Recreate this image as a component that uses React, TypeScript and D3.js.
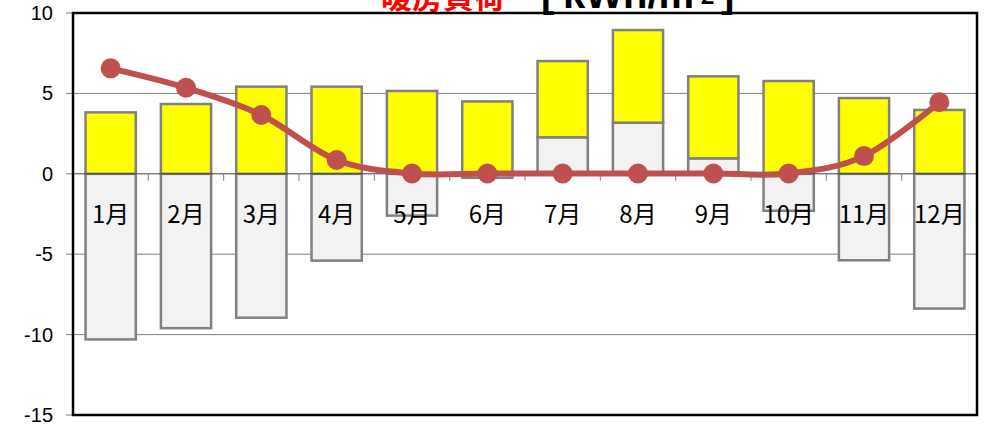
import React from "react";
import * as d3 from "d3";

const months = ["1月", "2月", "3月", "4月", "5月", "6月", "7月", "8月", "9月", "10月", "11月", "12月"];
const graySeries = [-10.3, -9.6, -8.95, -5.4, -2.6, -0.25, 2.27, 3.18, 0.96, -2.3, -5.38, -8.38];
const yellowSeries = [3.82, 4.34, 5.42, 5.42, 5.15, 4.5, 4.74, 5.76, 5.1, 5.77, 4.71, 3.97];
const lineSeries = [6.56, 5.35, 3.66, 0.86, 0.02, 0.02, 0.02, 0.02, 0.02, 0.02, 1.1, 4.45];
const yTicks = [-15, -10, -5, 0, 5, 10];

const W = 985;
const H = 427;
const margin = { left: 73, right: 8, top: 13, bottom: 12 };

export default function App() {
  const x = d3
    .scaleBand<string>()
    .domain(months)
    .range([margin.left, W - margin.right])
    .paddingInner(0.333)
    .paddingOuter(0.1665);
  const band = d3.scaleBand<string>().domain(months).range([margin.left, W - margin.right]);
  const y = d3.scaleLinear().domain([-15, 10]).range([H - margin.bottom, margin.top]);

  const rows = months.map((m, i) => ({ m, gray: graySeries[i], yellow: yellowSeries[i] }));
  const stacked = d3
    .stack<any>()
    .keys(["gray", "yellow"])
    .offset(d3.stackOffsetDiverging)(rows);
  const fills: Record<string, string> = { gray: "#F2F2F2", yellow: "#FFFF00" };

  const line = d3
    .line<number>()
    .x((_, i) => (band(months[i]) as number) + band.bandwidth() / 2)
    .y((d) => y(d))
    .curve(d3.curveCatmullRom.alpha(0));

  const x0 = margin.left;
  const x1 = W - margin.right;

  return (
    <svg
      width={W}
      height={H}
      style={{ position: "absolute", left: 0, top: 0, background: "#fff" }}
    >
      <text
        x={381}
        y={8}
        fontFamily="'Noto Sans CJK JP', sans-serif"
        fontWeight="bold"
        fontSize={31}
        fill="#FF0000"
      >
        暖房負荷
      </text>
      <g fontFamily="'Liberation Sans', Arial, sans-serif" fontWeight="bold" fill="#000">
        <text x={541} y={7} fontSize={40}>[</text>
        <text x={563} y={8} fontSize={40}>kWh/m</text>
        <text x={701} y={4} fontSize={24}>2</text>
        <text x={721} y={7} fontSize={40}>]</text>
      </g>

      {/* gridlines */}
      {yTicks
        .filter((t) => t !== 0 && t !== 10 && t !== -15)
        .map((t) => (
          <line key={t} x1={x0} x2={x1} y1={y(t)} y2={y(t)} stroke="#7f7f7f" strokeWidth={1} />
        ))}

      {/* y ticks */}
      {yTicks.map((t) => (
        <g key={"t" + t}>
          <line x1={x0 - 7} x2={x0} y1={y(t)} y2={y(t)} stroke="#808080" strokeWidth={1} />
          <text
            x={53}
            y={y(t)}
            dy="0.35em"
            textAnchor="end"
            fontFamily="'Liberation Sans', Arial, sans-serif"
            fontSize={20}
            fill="#000"
          >
            {t}
          </text>
        </g>
      ))}

      {/* bars */}
      {stacked.map((s) =>
        s.map((d, i) => {
          const top = y(Math.max(d[0], d[1]));
          const bot = y(Math.min(d[0], d[1]));
          return (
            <rect
              key={s.key + i}
              x={x(months[i])}
              y={top}
              width={x.bandwidth()}
              height={Math.max(0, bot - top)}
              fill={fills[s.key]}
              stroke="#808080"
              strokeWidth={2.5}
            />
          );
        })
      )}

      {/* zero axis */}
      <line x1={x0} x2={x1} y1={y(0)} y2={y(0)} stroke="#404040" strokeWidth={1} />
      {months.map((m, i) => (
        <line
          key={"ct" + i}
          x1={(band(m) as number) + band.bandwidth()}
          x2={(band(m) as number) + band.bandwidth()}
          y1={y(0)}
          y2={y(0) + 7}
          stroke="#808080"
          strokeWidth={1}
        />
      ))}

      {/* category labels */}
      {months.map((m) => (
        <text
          key={"l" + m}
          x={(band(m) as number) + band.bandwidth() / 2}
          y={223}
          textAnchor="middle"
          fontFamily="'Noto Sans CJK JP', sans-serif"
          fontSize={24}
          fill="#000"
        >
          {m}
        </text>
      ))}

      {/* line */}
      <path d={line(lineSeries) || ""} fill="none" stroke="#C0504D" strokeWidth={6} />
      {lineSeries.map((v, i) => (
        <circle
          key={"c" + i}
          cx={(band(months[i]) as number) + band.bandwidth() / 2}
          cy={y(v)}
          r={10}
          fill="#C0504D"
        />
      ))}

      {/* plot border */}
      <rect
        x={x0}
        y={margin.top}
        width={x1 - x0}
        height={H - margin.bottom - margin.top}
        fill="none"
        stroke="#000"
        strokeWidth={2.5}
      />
    </svg>
  );
}
